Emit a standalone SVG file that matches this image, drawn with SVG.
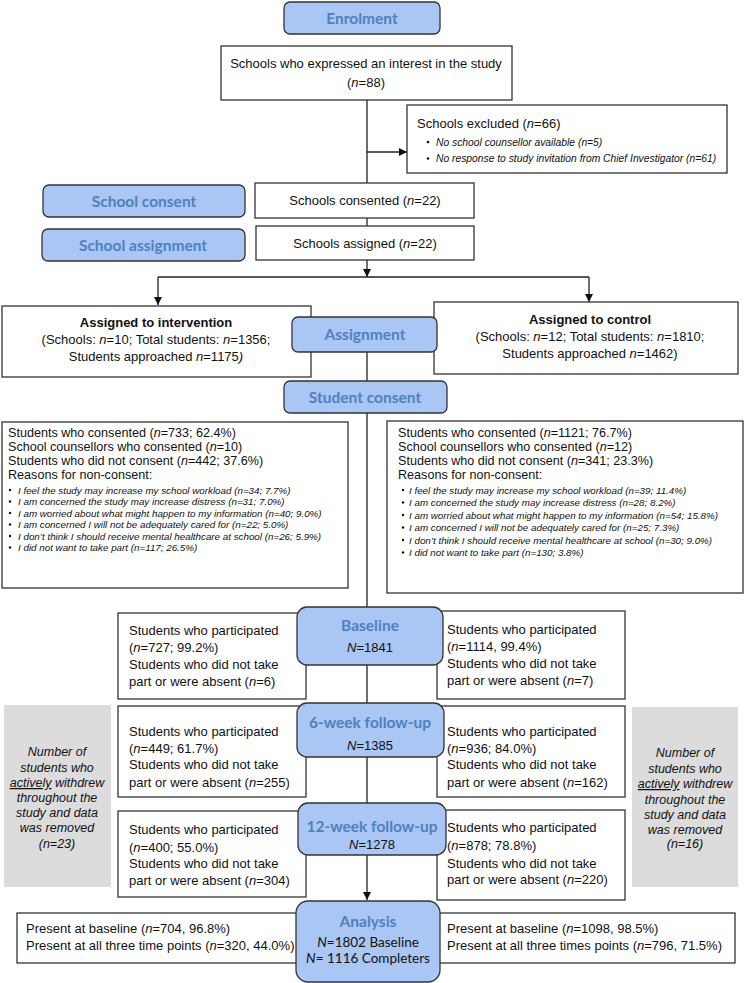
<svg xmlns="http://www.w3.org/2000/svg" width="746" height="983" viewBox="0 0 746 983">
<style>
.box{fill:#fff;stroke:#333;stroke-width:1.3}
.hdr{fill:#a9c6f5;stroke:#333;stroke-width:1.3}
.grey{fill:#dcdcdc}
.ht{font-family:Lato,"Open Sans",sans-serif;font-weight:700;font-size:15.5px;fill:#4f81bd;text-anchor:middle}
.hn{font-family:"Liberation Sans",Arial,sans-serif;font-size:13px;fill:#111;text-anchor:middle}
.hl{font-family:Lato,"Open Sans",sans-serif;font-size:13.5px;fill:#111;text-anchor:middle}
.t{font-family:"Liberation Sans",Arial,sans-serif;font-size:13px;fill:#111}
.s{font-size:12.6px}
.c{text-anchor:middle}
.bd{font-weight:700}
.b{font-family:"Liberation Sans",Arial,sans-serif;font-size:9.8px;font-style:italic;fill:#111}
.bx{font-size:10.3px}
.g{font-family:"Liberation Sans",Arial,sans-serif;font-size:12.5px;font-style:italic;fill:#111;text-anchor:middle}
.i{font-style:italic}
.ln{stroke:#222;stroke-width:1.3;fill:none}
</style>
<defs>
<marker id="ah" markerWidth="8" markerHeight="8" refX="8" refY="4" orient="auto" markerUnits="userSpaceOnUse">
<path d="M0,0 L8,4 L0,8 Z" fill="#111"/>
</marker>
</defs>

<g id="connectors">
<line class="ln" x1="367" y1="100" x2="367" y2="183"/>
<line class="ln" x1="367" y1="152" x2="407" y2="152" marker-end="url(#ah)"/>
<line class="ln" x1="367" y1="218" x2="367" y2="226"/>
<line class="ln" x1="367" y1="260" x2="367" y2="277" marker-end="url(#ah)"/>
<line class="ln" x1="158" y1="277" x2="589" y2="277"/>
<line class="ln" x1="158" y1="277" x2="158" y2="305" marker-end="url(#ah)"/>
<line class="ln" x1="589" y1="277" x2="589" y2="302" marker-end="url(#ah)"/>
<line class="ln" x1="367" y1="352" x2="367" y2="381"/>
<line class="ln" x1="367" y1="413" x2="367" y2="607"/>
<line class="ln" x1="367" y1="665" x2="367" y2="703"/>
<line class="ln" x1="367" y1="757" x2="367" y2="803"/>
<line class="ln" x1="367" y1="855" x2="367" y2="900" marker-end="url(#ah)"/>
</g>

<g id="enrolment">
<rect class="hdr" x="284" y="2" width="156" height="32" rx="6"/>
<text class="ht" x="362" y="24">Enrolment</text>
</g>

<g id="interest">
<rect class="box" x="221" y="46" width="291" height="54"/>
<text class="t c" x="366" y="68">Schools who expressed an interest in the study</text>
<text class="t c" x="366" y="87">(<tspan class="i">n</tspan>=88)</text>
</g>

<g id="excluded">
<rect class="box" x="407" y="105" width="320" height="68"/>
<text class="t" x="417" y="128">Schools excluded (<tspan class="i">n</tspan>=66)</text>
<circle cx="428" cy="142" r="1.3" fill="#111"/>
<text class="b bx" x="436" y="145.5">No school counsellor available (n=5)</text>
<circle cx="428" cy="158.5" r="1.3" fill="#111"/>
<text class="b bx" x="436" y="162">No response to study invitation from Chief Investigator (n=61)</text>
</g>

<g id="school-consent">
<rect class="hdr" x="43" y="185" width="202" height="32" rx="6"/>
<text class="ht" x="144" y="207">School consent</text>
</g>

<g id="schools-consented">
<rect class="box" x="255" y="183" width="219" height="35"/>
<text class="t c" x="365" y="205">Schools consented (<tspan class="i">n</tspan>=22)</text>
</g>

<g id="school-assignment">
<rect class="hdr" x="42" y="229" width="203" height="32" rx="6"/>
<text class="ht" x="143" y="251">School assignment</text>
</g>

<g id="schools-assigned">
<rect class="box" x="256" y="226" width="218" height="34"/>
<text class="t c" x="365" y="248">Schools assigned (<tspan class="i">n</tspan>=22)</text>
</g>

<g id="intervention">
<rect class="box" x="2" y="306" width="309" height="71"/>
<text class="t c bd" x="156" y="327">Assigned to intervention</text>
<text class="t c" x="156" y="344">(Schools: <tspan class="i">n</tspan>=10; Total students: <tspan class="i">n</tspan>=1356;</text>
<text class="t c" x="156" y="361">Students approached <tspan class="i">n</tspan>=1175<tspan class="i">)</tspan></text>
</g>

<g id="control">
<rect class="box" x="434" y="302" width="304" height="72"/>
<text class="t c bd" x="590" y="324">Assigned to control</text>
<text class="t c" x="590" y="341">(Schools: <tspan class="i">n</tspan>=12; Total students: <tspan class="i">n</tspan>=1810;</text>
<text class="t c" x="590" y="358">Students approached <tspan class="i">n</tspan>=1462)</text>
</g>

<g id="assignment">
<rect class="hdr" x="292" y="317" width="145" height="35" rx="6"/>
<text class="ht" x="365" y="340">Assignment</text>
</g>

<g id="student-consent">
<rect class="hdr" x="284" y="381" width="163" height="32" rx="6"/>
<text class="ht" x="365" y="403">Student consent</text>
</g>

<g id="consent-left">
<rect class="box" x="2" y="422" width="346" height="166"/>
<text class="t s" x="8" y="437">Students who consented (<tspan class="i">n</tspan>=733; 62.4%)</text>
<text class="t s" x="8" y="451">School counsellors who consented (<tspan class="i">n</tspan>=10)</text>
<text class="t s" x="8" y="465">Students who did not consent (<tspan class="i">n</tspan>=442; 37.6%)</text>
<text class="t s" x="8" y="479">Reasons for non-consent:</text>
<g fill="#111">
<circle cx="10" cy="490" r="1.2"/><circle cx="10" cy="501.5" r="1.2"/><circle cx="10" cy="513" r="1.2"/>
<circle cx="10" cy="524.5" r="1.2"/><circle cx="10" cy="536" r="1.2"/><circle cx="10" cy="547.5" r="1.2"/>
</g>
<text class="b" x="18" y="493.5">I feel the study may increase my school workload (n=34; 7.7%)</text>
<text class="b" x="18" y="505">I am concerned the study may increase distress (n=31; 7.0%)</text>
<text class="b" x="18" y="516.5">I am worried about what might happen to my information (n=40; 9.0%)</text>
<text class="b" x="18" y="528">I am concerned I will not be adequately cared for (n=22; 5.0%)</text>
<text class="b" x="18" y="539.5">I don’t think I should receive mental healthcare at school (n=26; 5.9%)</text>
<text class="b" x="18" y="551">I did not want to take part (n=117; 26.5%)</text>
</g>

<g id="consent-right">
<rect class="box" x="387" y="421" width="356" height="172"/>
<text class="t s" x="398" y="437">Students who consented (<tspan class="i">n</tspan>=1121; 76.7%)</text>
<text class="t s" x="398" y="451">School counsellors who consented (<tspan class="i">n</tspan>=12)</text>
<text class="t s" x="398" y="465">Students who did not consent (<tspan class="i">n</tspan>=341; 23.3%)</text>
<text class="t s" x="398" y="479">Reasons for non-consent:</text>
<g fill="#111">
<circle cx="403" cy="490" r="1.2"/><circle cx="403" cy="502.5" r="1.2"/><circle cx="403" cy="515" r="1.2"/>
<circle cx="403" cy="527.5" r="1.2"/><circle cx="403" cy="540" r="1.2"/><circle cx="403" cy="552.5" r="1.2"/>
</g>
<text class="b" x="409" y="493.5">I feel the study may increase my school workload (n=39; 11.4%)</text>
<text class="b" x="409" y="506">I am concerned the study may increase distress (n=28; 8.2%)</text>
<text class="b" x="409" y="518.5">I am worried about what might happen to my information (n=54; 15.8%)</text>
<text class="b" x="409" y="531">I am concerned I will not be adequately cared for (n=25; 7.3%)</text>
<text class="b" x="409" y="543.5">I don’t think I should receive mental healthcare at school (n=30; 9.0%)</text>
<text class="b" x="409" y="556">I did not want to take part (n=130; 3.8%)</text>
</g>

<g id="baseline-left">
<rect class="box" x="118" y="613" width="188" height="86"/>
<text class="t" x="129" y="635">Students who participated</text>
<text class="t" x="129" y="652">(<tspan class="i">n</tspan>=727; 99.2%)</text>
<text class="t" x="129" y="669">Students who did not take</text>
<text class="t" x="129" y="686">part or were absent (<tspan class="i">n</tspan>=6)</text>
</g>

<g id="baseline-right">
<rect class="box" x="437" y="611" width="188" height="88"/>
<text class="t" x="447" y="634">Students who participated</text>
<text class="t" x="447" y="651">(<tspan class="i">n</tspan>=1114, 99.4%)</text>
<text class="t" x="447" y="668">Students who did not take</text>
<text class="t" x="447" y="685">part or were absent (<tspan class="i">n</tspan>=7)</text>
</g>

<g id="baseline">
<rect class="hdr" x="297" y="607" width="146" height="58" rx="10"/>
<text class="ht" x="370" y="631">Baseline</text>
<text class="hn" x="370" y="652"><tspan class="i">N</tspan>=1841</text>
</g>

<g id="week6-left">
<rect class="box" x="118" y="706" width="188" height="91"/>
<text class="t" x="129" y="735.5">Students who participated</text>
<text class="t" x="129" y="752.5">(<tspan class="i">n</tspan>=449; 61.7%)</text>
<text class="t" x="129" y="768.5">Students who did not take</text>
<text class="t" x="129" y="786.5">part or were absent (<tspan class="i">n</tspan>=255)</text>
</g>

<g id="week6-right">
<rect class="box" x="437" y="706" width="188" height="91"/>
<text class="t" x="447" y="735.5">Students who participated</text>
<text class="t" x="447" y="752.5">(<tspan class="i">n</tspan>=936; 84.0%)</text>
<text class="t" x="447" y="768.5">Students who did not take</text>
<text class="t" x="447" y="786.5">part or were absent (<tspan class="i">n</tspan>=162)</text>
</g>

<g id="week6">
<rect class="hdr" x="297" y="703" width="147" height="54" rx="10"/>
<text class="ht" x="370" y="728">6-week follow-up</text>
<text class="hn" x="370" y="750"><tspan class="i">N</tspan>=1385</text>
</g>

<g id="withdrew-left">
<rect class="grey" x="4" y="705" width="107" height="182"/>
<text class="g" x="57" y="756">Number of</text>
<text class="g" x="57" y="772">students who</text>
<text class="g" x="57" y="787"><tspan text-decoration="underline">actively</tspan> withdrew</text>
<text class="g" x="57" y="802">throughout the</text>
<text class="g" x="57" y="817">study and data</text>
<text class="g" x="57" y="832">was removed</text>
<text class="g" x="57" y="848">(n=23)</text>
</g>

<g id="withdrew-right">
<rect class="grey" x="632" y="707" width="106" height="180"/>
<text class="g" x="685" y="757">Number of</text>
<text class="g" x="685" y="773">students who</text>
<text class="g" x="685" y="788"><tspan text-decoration="underline">actively</tspan> withdrew</text>
<text class="g" x="685" y="804">throughout the</text>
<text class="g" x="685" y="819">study and data</text>
<text class="g" x="685" y="834">was removed</text>
<text class="g" x="685" y="848">(n=16)</text>
</g>

<g id="week12-left">
<rect class="box" x="118" y="811" width="188" height="86"/>
<text class="t" x="129" y="833.5">Students who participated</text>
<text class="t" x="129" y="851.5">(<tspan class="i">n</tspan>=400; 55.0%)</text>
<text class="t" x="129" y="867.5">Students who did not take</text>
<text class="t" x="129" y="884.5">part or were absent (<tspan class="i">n</tspan>=304)</text>
</g>

<g id="week12-right">
<rect class="box" x="437" y="810" width="188" height="90"/>
<text class="t" x="447" y="831.5">Students who participated</text>
<text class="t" x="447" y="849.5">(<tspan class="i">n</tspan>=878; 78.8%)</text>
<text class="t" x="447" y="867.5">Students who did not take</text>
<text class="t" x="447" y="883.5">part or were absent (<tspan class="i">n</tspan>=220)</text>
</g>

<g id="week12">
<rect class="hdr" x="298" y="803" width="148" height="52" rx="10"/>
<text class="ht" x="372" y="832">12-week follow-up</text>
<text class="hn" x="372" y="849"><tspan class="i">N</tspan>=1278</text>
</g>

<g id="analysis-left">
<rect class="box" x="17" y="913" width="282" height="50"/>
<text class="t" x="26" y="933">Present at baseline (<tspan class="i">n</tspan>=704, 96.8%)</text>
<text class="t" x="26" y="950">Present at all three time points (<tspan class="i">n</tspan>=320, 44.0%)</text>
</g>

<g id="analysis-right">
<rect class="box" x="439" y="913" width="296" height="50"/>
<text class="t" x="447" y="933">Present at baseline (<tspan class="i">n</tspan>=1098, 98.5%)</text>
<text class="t" x="447" y="950">Present at all three times points (<tspan class="i">n</tspan>=796, 71.5%)</text>
</g>

<g id="analysis">
<rect class="hdr" x="296" y="901" width="144" height="81" rx="12"/>
<text class="ht" x="368" y="927">Analysis</text>
<text class="hl" x="368" y="947"><tspan class="i">N</tspan>=1802 Baseline</text>
<text class="hl" x="368" y="963"><tspan class="i">N</tspan>= 1116 Completers</text>
</g>
</svg>
